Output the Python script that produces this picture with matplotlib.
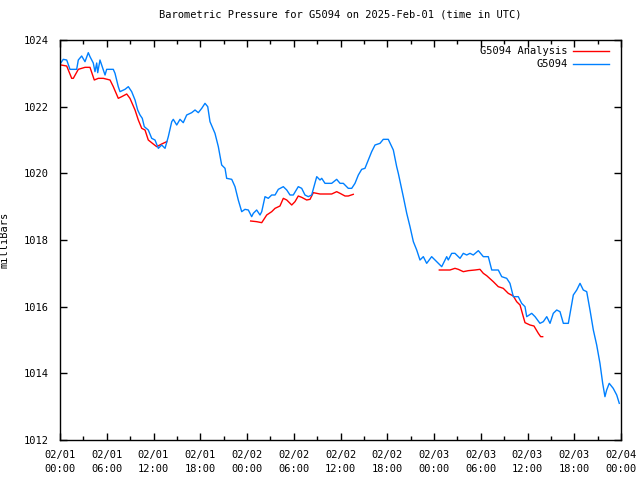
import numpy as np
import matplotlib
matplotlib.use("Agg")
import matplotlib.pyplot as plt
from matplotlib.ticker import MultipleLocator

# hours since 2025-02-01 00:00 UTC, pressure in mbar
obs_hours = [0.13, 0.42, 0.86, 1.28, 2.14, 2.35, 2.78, 3.21, 3.63, 3.85, 4.27, 4.49, 4.71, 4.84,
             5.13, 5.35, 5.78, 5.99, 6.84, 7.06, 7.48, 7.70, 8.34, 8.77, 9.20, 9.63, 9.97, 10.27,
             10.56, 10.82, 11.33, 11.77, 12.19, 12.62, 13.05, 13.48, 13.90, 14.34, 14.54, 14.98,
             15.40, 15.82, 16.26, 16.90, 17.33, 17.75, 18.19, 18.61, 18.96, 19.25, 19.89, 20.32,
             20.75, 21.18, 21.39, 22.04, 22.46, 22.88, 23.32, 23.74, 24.17, 24.60, 24.81, 25.24,
             25.67, 25.89, 26.31, 26.73, 27.17, 27.60, 28.02, 28.66, 29.10, 29.52, 29.94, 30.58,
             31.02, 31.44, 31.87, 32.30, 32.95, 33.37, 33.59, 34.01, 34.87, 35.51, 35.94, 36.36,
             37.00, 37.44, 37.86, 38.29, 38.72, 39.14, 39.57, 40.00, 40.43, 41.07, 41.49, 42.13,
             42.57, 42.78, 43.21, 43.42, 44.06, 44.50, 44.92, 45.35, 45.78, 46.20, 46.63, 47.06,
             47.70, 48.35, 48.99, 49.63, 49.83, 50.27, 50.69, 51.34, 51.76, 52.20, 52.62, 53.04,
             53.69, 54.33, 54.97, 55.41, 56.25, 56.69, 57.33, 57.75, 58.18, 58.82, 59.25, 59.68,
             59.90, 60.54, 60.97, 61.60, 62.03, 62.47, 62.89, 63.31, 63.75, 64.17, 64.60, 65.24,
             65.88, 66.32, 66.74, 67.16, 67.60, 68.02, 68.45, 68.88, 69.30, 69.65, 69.94, 70.16,
             70.49, 71.00, 71.45, 71.78]
obs_mbar = [1023.32, 1023.42, 1023.40, 1023.12, 1023.12, 1023.40, 1023.52, 1023.35, 1023.62, 1023.50,
            1023.31, 1023.05, 1023.31, 1023.02, 1023.40, 1023.25, 1022.95, 1023.12, 1023.12, 1023.00,
            1022.60, 1022.45, 1022.52, 1022.60, 1022.45, 1022.20, 1021.90, 1021.75, 1021.65, 1021.40,
            1021.30, 1021.05, 1021.00, 1020.75, 1020.85, 1020.75, 1021.10, 1021.55, 1021.62, 1021.45,
            1021.62, 1021.52, 1021.75, 1021.82, 1021.90, 1021.82, 1021.95, 1022.10, 1022.00, 1021.55,
            1021.20, 1020.80, 1020.25, 1020.15, 1019.85, 1019.82, 1019.60, 1019.20, 1018.85, 1018.92,
            1018.90, 1018.70, 1018.80, 1018.90, 1018.75, 1018.85, 1019.30, 1019.25, 1019.35, 1019.35,
            1019.52, 1019.60, 1019.50, 1019.35, 1019.35, 1019.60, 1019.55, 1019.35, 1019.30, 1019.35,
            1019.90, 1019.80, 1019.85, 1019.70, 1019.70, 1019.82, 1019.70, 1019.70, 1019.55, 1019.55,
            1019.70, 1019.95, 1020.12, 1020.15, 1020.40, 1020.65, 1020.85, 1020.90, 1021.02, 1021.02,
            1020.80, 1020.70, 1020.20, 1020.00, 1019.30, 1018.80, 1018.40, 1017.95, 1017.70, 1017.40,
            1017.50, 1017.30, 1017.50, 1017.35, 1017.20, 1017.50, 1017.40, 1017.60, 1017.60, 1017.45,
            1017.60, 1017.55, 1017.60, 1017.55, 1017.68, 1017.50, 1017.50, 1017.10, 1017.10, 1016.90,
            1016.85, 1016.70, 1016.30, 1016.30, 1016.10, 1016.00, 1015.70, 1015.80, 1015.70, 1015.50,
            1015.55, 1015.70, 1015.50, 1015.80, 1015.90, 1015.85, 1015.50, 1015.50, 1016.35, 1016.50,
            1016.70, 1016.50, 1016.45, 1015.90, 1015.30, 1014.85, 1014.30, 1013.70, 1013.30, 1013.50,
            1013.70, 1013.55, 1013.35, 1013.10]

# analysis series (NaN = gap)
ana_hours = [0.13, 0.86, 1.50, 1.71, 2.35, 3.21, 3.85, 4.40, 4.92, 5.56, 6.42, 6.84, 7.48, 7.92,
             8.56, 8.98, 9.63, 10.05, 10.49, 10.91, 11.33, 11.97, 12.41, 13.05, 13.69, 19.0,
             24.47, 25.24, 25.89, 26.53, 27.17, 27.60, 28.23, 28.66, 29.10, 29.74, 30.16, 30.58,
             31.02, 31.66, 32.09, 32.51, 33.37, 34.87, 35.51, 35.94, 36.58, 37.00, 37.64, 43.0,
             48.68, 50.05, 50.69, 51.12, 51.76, 52.40, 53.26, 53.90, 54.33, 54.76, 55.61, 56.25,
             56.89, 57.53, 58.18, 58.61, 59.04, 59.46, 59.68, 60.32, 60.83, 61.39, 61.69, 61.95]
ana_mbar = [1023.25, 1023.22, 1022.85, 1022.85, 1023.12, 1023.18, 1023.18, 1022.80, 1022.85, 1022.85,
            1022.80, 1022.60, 1022.25, 1022.30, 1022.38, 1022.25, 1021.90, 1021.60, 1021.35, 1021.30,
            1021.00, 1020.88, 1020.80, 1020.88, 1020.95, np.nan,
            1018.57, 1018.55, 1018.52, 1018.75, 1018.85, 1018.95, 1019.02, 1019.25, 1019.20, 1019.05,
            1019.15, 1019.32, 1019.28, 1019.20, 1019.22, 1019.42, 1019.38, 1019.38, 1019.45, 1019.40,
            1019.32, 1019.32, 1019.37, np.nan,
            1017.10, 1017.10, 1017.15, 1017.12, 1017.05, 1017.08, 1017.10, 1017.12, 1017.00, 1016.93,
            1016.75, 1016.60, 1016.55, 1016.40, 1016.32, 1016.15, 1016.05, 1015.70, 1015.52, 1015.45,
            1015.42, 1015.20, 1015.10, 1015.10]

tick_hours = list(range(0, 73, 6))
tick_labels = ["02/01\n00:00", "02/01\n06:00", "02/01\n12:00", "02/01\n18:00",
               "02/02\n00:00", "02/02\n06:00", "02/02\n12:00", "02/02\n18:00",
               "02/03\n00:00", "02/03\n06:00", "02/03\n12:00", "02/03\n18:00",
               "02/04\n00:00"]

plt.rcParams["font.family"] = "DejaVu Sans Mono"
plt.rcParams["font.size"] = 7.5

fig = plt.figure(figsize=(6.4, 4.8), dpi=100)
ax = fig.add_axes([60 / 640, 40 / 480, 561 / 640, 400 / 480])

ax.plot(ana_hours, ana_mbar, color="#ff0000", linewidth=1, label="G5094 Analysis")
ax.plot(obs_hours, obs_mbar, color="#0080ff", linewidth=1, label="G5094")

ax.set_xlim(0, 72)
ax.set_ylim(1012, 1024)
ax.set_xticks(tick_hours)
ax.set_xticklabels(tick_labels, linespacing=1.5)
ax.xaxis.set_minor_locator(MultipleLocator(3))
ax.yaxis.set_major_locator(MultipleLocator(2))
ax.yaxis.set_major_formatter(matplotlib.ticker.FormatStrFormatter("%d"))
ax.tick_params(which="both", direction="in", top=True, right=True, width=1)
ax.tick_params(which="major", length=5)
ax.tick_params(axis="x", which="major", pad=7)
ax.tick_params(axis="y", which="major", pad=8)
ax.tick_params(which="minor", length=3)
for s in ax.spines.values():
    s.set_linewidth(1)

ax.set_title("Barometric Pressure for G5094 on 2025-Feb-01 (time in UTC)", fontsize=7.5, pad=16)
ax.set_ylabel("milliBars")
ax.yaxis.set_label_coords(-50 / 561, 0.5)
ax.legend(loc="upper right", frameon=False, markerfirst=False, handlelength=3.5,
          borderaxespad=0.2, labelspacing=0.3, handletextpad=0.5,
          bbox_to_anchor=(0.99, 1.0))

fig.savefig("out.png", dpi=100)
